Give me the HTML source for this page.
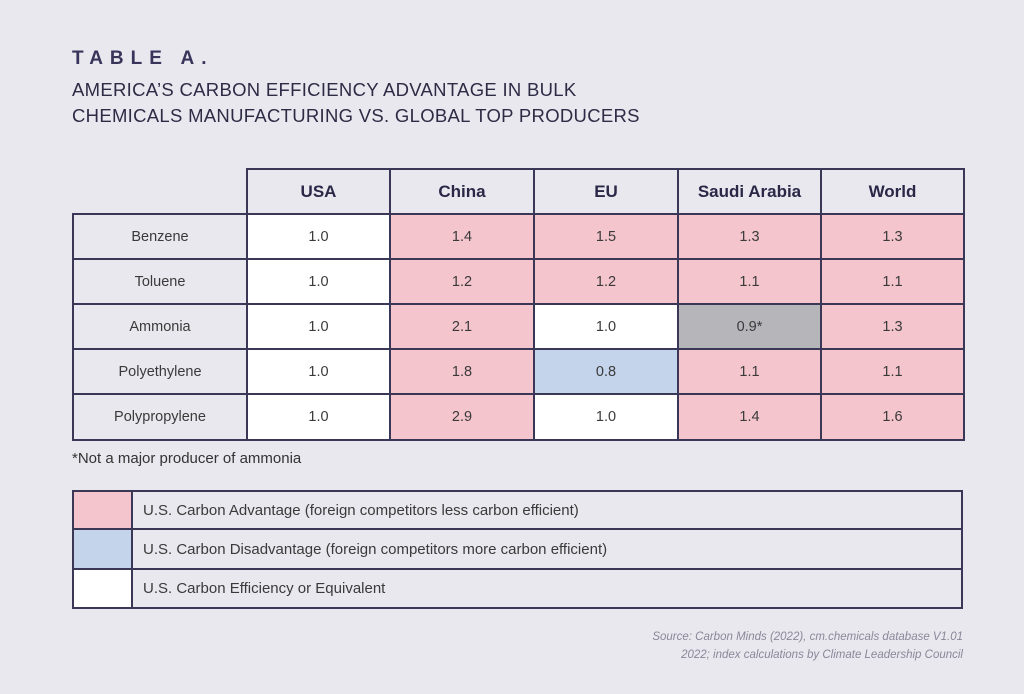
<!DOCTYPE html>
<html><head><style>
body{margin:0;width:1024px;height:694px;background:#e9e8ef;font-family:"Liberation Sans",sans-serif;color:#2e2b45;position:relative;overflow:hidden}
.a{position:absolute}
.c{position:absolute;box-sizing:border-box;border:2px solid #3b3857;display:flex;align-items:center;justify-content:center;font-size:14.5px;color:#3a3a3a}
.p{background:#f5c5cd}.w{background:#fff}.b{background:#c3d4eb}.g{background:#b6b5b9}
.h{font-weight:bold;font-size:17px;color:#2a2747}
</style></head><body>
<div class="a" style="left:72px;top:48px;font-size:19px;font-weight:bold;letter-spacing:7px;color:#38345a">TABLE A.</div>
<div class="a" style="left:72px;top:77px;font-size:18.5px;line-height:26px;letter-spacing:0.3px;color:#2e2b45">AMERICA’S CARBON EFFICIENCY ADVANTAGE IN BULK<br>CHEMICALS MANUFACTURING VS. GLOBAL TOP PRODUCERS</div>
<div id="t"></div>
<div class="a" style="left:72px;top:450px;font-size:15px;color:#333">*Not a major producer of ammonia</div>
<div class="c p" style="left:72px;top:490px;width:61px;height:40px"></div>
<div class="c" style="left:131px;top:490px;width:832px;height:40px;justify-content:flex-start;padding-left:10px;font-size:15px">U.S. Carbon Advantage (foreign competitors less carbon efficient)</div>
<div class="c b" style="left:72px;top:528px;width:61px;height:42px"></div>
<div class="c" style="left:131px;top:528px;width:832px;height:42px;justify-content:flex-start;padding-left:10px;font-size:15px">U.S. Carbon Disadvantage (foreign competitors more carbon efficient)</div>
<div class="c w" style="left:72px;top:568px;width:61px;height:41px"></div>
<div class="c" style="left:131px;top:568px;width:832px;height:41px;justify-content:flex-start;padding-left:10px;font-size:15px">U.S. Carbon Efficiency or Equivalent</div>
<div class="a" style="right:61px;top:628px;text-align:right;font-size:11.5px;font-style:italic;line-height:18px;color:#8a8898">Source: Carbon Minds (2022), cm.chemicals database V1.01<br>2022; index calculations by Climate Leadership Council</div>
<script>
var xs=[72,246,389,533,677,820,963],ys=[168,213,258,303,348,393,439];
var hd=["USA","China","EU","Saudi Arabia","World"];
var rows=[["Benzene","1.0","1.4","1.5","1.3","1.3"],["Toluene","1.0","1.2","1.2","1.1","1.1"],["Ammonia","1.0","2.1","1.0","0.9*","1.3"],["Polyethylene","1.0","1.8","0.8","1.1","1.1"],["Polypropylene","1.0","2.9","1.0","1.4","1.6"]];
var cl=[["w","p","p","p","p"],["w","p","p","p","p"],["w","p","w","g","p"],["w","p","b","p","p"],["w","p","w","p","p"]];
var h="";
for(var i=0;i<5;i++)h+='<div class="c h" style="left:'+xs[i+1]+'px;top:'+ys[0]+'px;width:'+(xs[i+2]-xs[i+1]+2)+'px;height:'+(ys[1]-ys[0]+2)+'px">'+hd[i]+'</div>';
for(var r=0;r<5;r++)for(var c=0;c<6;c++){var k=c==0?'':cl[r][c-1];h+='<div class="c '+k+'" style="left:'+xs[c]+'px;top:'+ys[r+1]+'px;width:'+(xs[c+1]-xs[c]+2)+'px;height:'+(ys[r+2]-ys[r+1]+2)+'px">'+rows[r][c]+'</div>';}
document.getElementById("t").innerHTML=h;
</script>
</body></html>
